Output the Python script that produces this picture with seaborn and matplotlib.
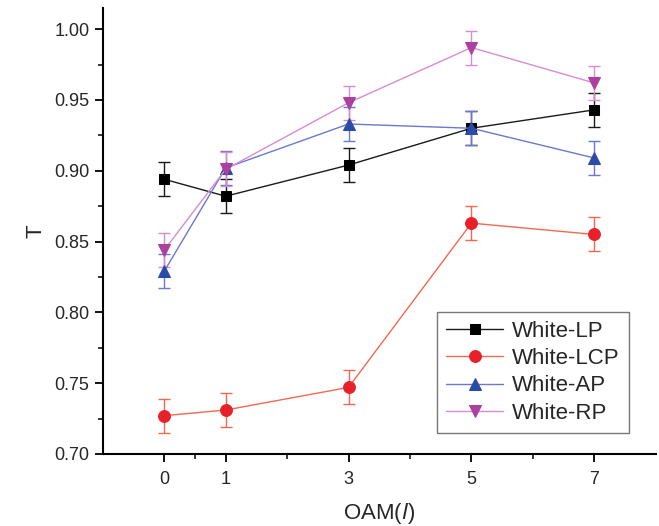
import numpy as np
import pandas as pd
import matplotlib
matplotlib.use("Agg")
import matplotlib.pyplot as plt
import seaborn as sns
from matplotlib.ticker import FixedLocator

oam = [0, 1, 3, 5, 7]
series_names = ["White-LP", "White-LCP", "White-AP", "White-RP"]
t_lp = [0.894, 0.882, 0.904, 0.930, 0.943]
t_lcp = [0.727, 0.731, 0.747, 0.863, 0.855]
t_ap = [0.829, 0.902, 0.933, 0.930, 0.909]
t_rp = [0.844, 0.901, 0.948, 0.987, 0.962]
err_lp = [0.012, 0.012, 0.012, 0.012, 0.012]
err_lcp = [0.012, 0.012, 0.012, 0.012, 0.012]
err_ap = [0.012, 0.012, 0.012, 0.012, 0.012]
err_rp = [0.012, 0.012, 0.012, 0.012, 0.012]

sns.set_style("ticks")
plt.rcParams['font.family'] = ['Liberation Sans', 'DejaVu Sans']

rows = []
for name, vals, errs in zip(series_names, [t_lp, t_lcp, t_ap, t_rp],
                            [err_lp, err_lcp, err_ap, err_rp]):
    for x, v, e in zip(oam, vals, errs):
        rows.append({"OAM": x, "T": v, "err": e, "series": name})
df = pd.DataFrame(rows)

line_colors = {"White-LP": "#1a1a1a", "White-LCP": "#f2694f",
               "White-AP": "#6b78cf", "White-RP": "#d98bd2"}
marker_colors = {"White-LP": "#000000", "White-LCP": "#e8202a",
                 "White-AP": "#2b4ca6", "White-RP": "#ad3f9e"}
markers = {"White-LP": "s", "White-LCP": "o", "White-AP": "^", "White-RP": "v"}
msizes = {"White-LP": 7.5, "White-LCP": 8.5, "White-AP": 9, "White-RP": 9}

fig = plt.figure(figsize=(6.59, 5.26), dpi=100)
ax = fig.add_axes([0.156, 0.137, 0.839, 0.848])

for name in series_names:
    sub = df[df.series == name]
    ax.errorbar(sub.OAM, sub["T"], yerr=sub.err, fmt="none",
                ecolor=line_colors[name], elinewidth=1.0, capsize=4,
                capthick=1.0, zorder=2)
    sns.lineplot(data=sub, x="OAM", y="T", ax=ax, color=line_colors[name],
                 linewidth=1.0, marker=markers[name], markersize=msizes[name],
                 markerfacecolor=marker_colors[name],
                 markeredgecolor=marker_colors[name], label=name, zorder=3)

ax.set_xlim(-1, 8)
ax.set_ylim(0.70, 1.015)
ax.set_xticks(oam)
ax.xaxis.set_minor_locator(FixedLocator([0.5, 2, 4, 6]))
ax.set_yticks([0.70, 0.75, 0.80, 0.85, 0.90, 0.95, 1.00])
ax.set_yticklabels(["0.70", "0.75", "0.80", "0.85", "0.90", "0.95", "1.00"])
ax.yaxis.set_minor_locator(FixedLocator([0.725, 0.775, 0.825, 0.875, 0.925, 0.975]))
ax.tick_params(axis="both", which="major", labelsize=13, length=6, width=1.3,
               direction="out", color="black")
ax.tick_params(axis="x", which="major", pad=6)
ax.tick_params(axis="both", which="minor", length=3.5, width=1.3, direction="out")
for s in ["left", "bottom"]:
    ax.spines[s].set_linewidth(1.5)
    ax.spines[s].set_color("black")
sns.despine(ax=ax)

ax.set_xlabel("OAM($\\it{l}$)", fontsize=16, labelpad=10)
ax.set_ylabel("T", fontsize=16, labelpad=6)

leg = ax.legend(loc="upper left", bbox_to_anchor=(0.604, 0.318), fontsize=16,
                frameon=True, fancybox=False, edgecolor="#555555",
                handlelength=2.6, handletextpad=0.4, labelspacing=0.28,
                borderpad=0.4, borderaxespad=0)
leg.get_frame().set_linewidth(1.0)

fig.savefig("out.png", dpi=100)
